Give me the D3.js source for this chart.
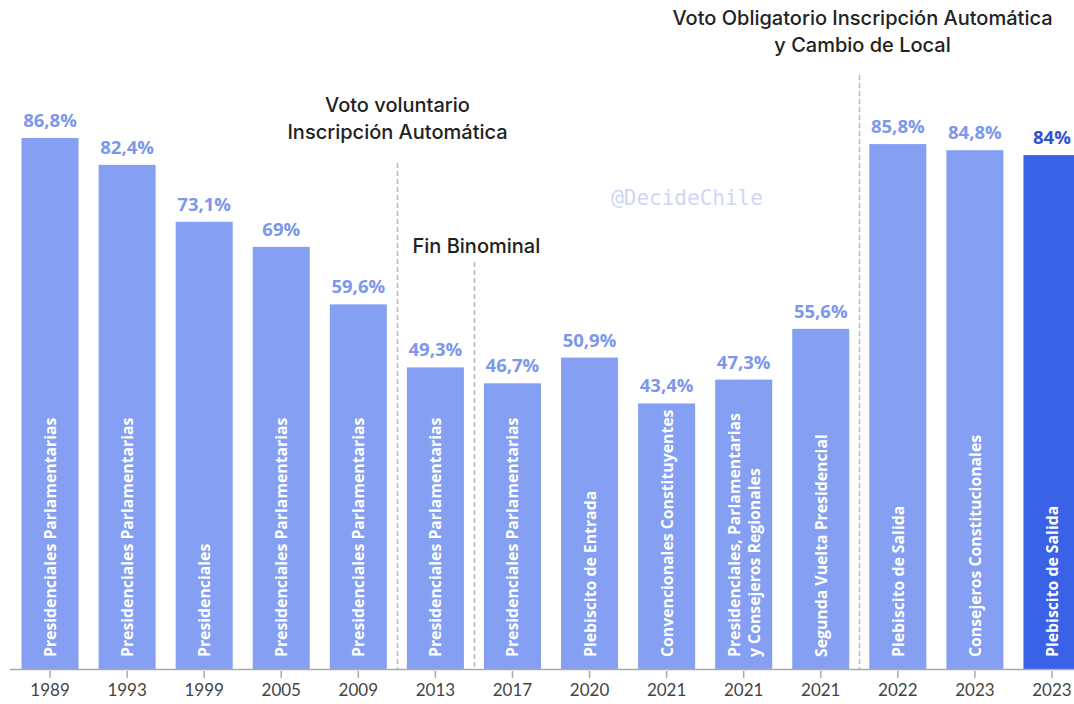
<!DOCTYPE html>
<html>
<head>
<meta charset="utf-8">
<script src="https://cdn.jsdelivr.net/npm/d3@7"></script>
<style>
  body { margin: 0; background: #fff; }
  svg { display: block; }
</style>
</head>
<body>
<div id="chart"></div>
<script>
// Data
const years = ['1989', '1993', '1999', '2005', '2009', '2013', '2017', '2020', '2021', '2021', '2021', '2022', '2023', '2023'];
const elections = [
  ['Presidenciales Parlamentarias'],
  ['Presidenciales Parlamentarias'],
  ['Presidenciales'],
  ['Presidenciales Parlamentarias'],
  ['Presidenciales Parlamentarias'],
  ['Presidenciales Parlamentarias'],
  ['Presidenciales Parlamentarias'],
  ['Plebiscito de Entrada'],
  ['Convencionales Constituyentes'],
  ['Presidenciales, Parlamentarias', 'y Consejeros Regionales'],
  ['Segunda Vuelta Presidencial'],
  ['Plebiscito de Salida'],
  ['Consejeros Constitucionales'],
  ['Plebiscito de Salida'],
];
const turnout = [86.8, 82.4, 73.1, 69, 59.6, 49.3, 46.7, 50.9, 43.4, 47.3, 55.6, 85.8, 84.8, 84];
const labels = ['86,8%', '82,4%', '73,1%', '69%', '59,6%', '49,3%', '46,7%', '50,9%', '43,4%', '47,3%', '55,6%', '85,8%', '84,8%', '84%'];

// Dividers sit between bar `after` and the next one
const dividers = [
  { after: 4, top: 163, text: ['Voto voluntario', 'Inscripción Automática'], ty: 105, anchor: 'middle', dx: 0 },
  { after: 5, top: 262, text: ['Fin Binominal'], ty: 246, anchor: 'start', dx: -62 },
  { after: 10, top: 75, text: ['Voto Obligatorio Inscripción Automática', 'y Cambio de Local'], ty: 18, anchor: 'middle', dx: 3 },
];

const width = 1074, height = 704;
const baseY = 669;

const svg = d3.select('#chart').append('svg')
  .attr('width', width)
  .attr('height', height);

const x = d3.scaleBand()
  .domain(d3.range(turnout.length))
  .range([11.5, 1090.5])
  .paddingInner(0.26)
  .paddingOuter(0.13);

const y = d3.scaleLinear()
  .domain([0, 100])
  .range([baseY, baseY - 611.8]);

const last = turnout.length - 1;

// Bars
svg.selectAll('rect.bar')
  .data(turnout)
  .join('rect')
    .attr('class', 'bar')
    .attr('x', (d, i) => x(i))
    .attr('y', d => y(d))
    .attr('width', x.bandwidth())
    .attr('height', d => y(0) - y(d))
    .attr('fill', (d, i) => i === last ? '#3a62e6' : '#85a0f2');

// Value labels
svg.selectAll('text.val')
  .data(turnout)
  .join('text')
    .attr('class', 'val')
    .attr('x', (d, i) => x(i) + x.bandwidth() / 2)
    .attr('y', d => y(d) - 11)
    .attr('text-anchor', 'middle')
    .style('font-family', 'Open Sans, sans-serif')
    .style('font-weight', 700)
    .style('font-size', '18.5px')
    .attr('fill', (d, i) => i === last ? '#2d52d6' : '#7b98ec')
    .text((d, i) => labels[i]);

// Category labels inside bars
const cat = svg.selectAll('text.cat')
  .data(elections)
  .join('text')
    .attr('class', 'cat')
    .attr('transform', (d, i) => {
      const cx = x(i) + x.bandwidth() / 2 + 6 - (d.length - 1) * 10;
      return `translate(${cx},${baseY - 12}) rotate(-90)`;
    })
    .attr('text-anchor', 'start')
    .style('font-family', 'Open Sans, sans-serif')
    .style('font-weight', 700)
    .style('font-size', '15.8px')
    .attr('fill', '#fff');

cat.selectAll('tspan')
  .data(d => d)
  .join('tspan')
    .attr('x', 0)
    .attr('dy', (d, j) => j === 0 ? 0 : 20)
    .text(d => d);

// Axis
const axis = d3.axisBottom(x)
  .tickFormat(i => years[i])
  .tickSize(9)
  .tickPadding(6);

const gx = svg.append('g')
  .attr('transform', `translate(0,${baseY})`)
  .call(axis);

gx.select('.domain')
  .attr('d', `M10,0.5H${width}`)
  .attr('stroke', '#aaa')
  .attr('stroke-width', 1.5);
gx.selectAll('.tick line')
  .attr('stroke', '#aaa')
  .attr('stroke-width', 1.5)
  .attr('y1', 2);
gx.selectAll('.tick text')
  .style('font-family', 'Lato, sans-serif')
  .style('font-size', '17px')
  .attr('fill', '#444');

// Watermark
svg.append('text')
  .attr('x', 687)
  .attr('y', 205)
  .attr('text-anchor', 'middle')
  .style('font-family', 'DejaVu Sans Mono, monospace')
  .style('font-size', '21px')
  .attr('fill', '#cdd7f5')
  .text('@DecideChile');

// Dividers and annotations
dividers.forEach(dv => {
  const lx = Math.round((x(dv.after) + x.bandwidth() + x(dv.after + 1)) / 2) + 0.5;
  svg.append('line')
    .attr('x1', lx).attr('x2', lx)
    .attr('y1', dv.top).attr('y2', baseY)
    .attr('stroke', '#bbb')
    .attr('stroke-width', 1.5)
    .attr('stroke-dasharray', '5,3');

  const t = svg.append('text')
    .attr('text-anchor', dv.anchor)
    .style('font-family', 'Inter, sans-serif')
    .style('font-weight', 500)
    .style('font-size', '20px')
    .attr('fill', '#222');
  dv.text.forEach((line, j) => {
    t.append('tspan')
      .attr('x', lx + dv.dx)
      .attr('y', dv.ty + 7 + j * 27)
      .text(line);
  });
});
</script>
</body>
</html>
